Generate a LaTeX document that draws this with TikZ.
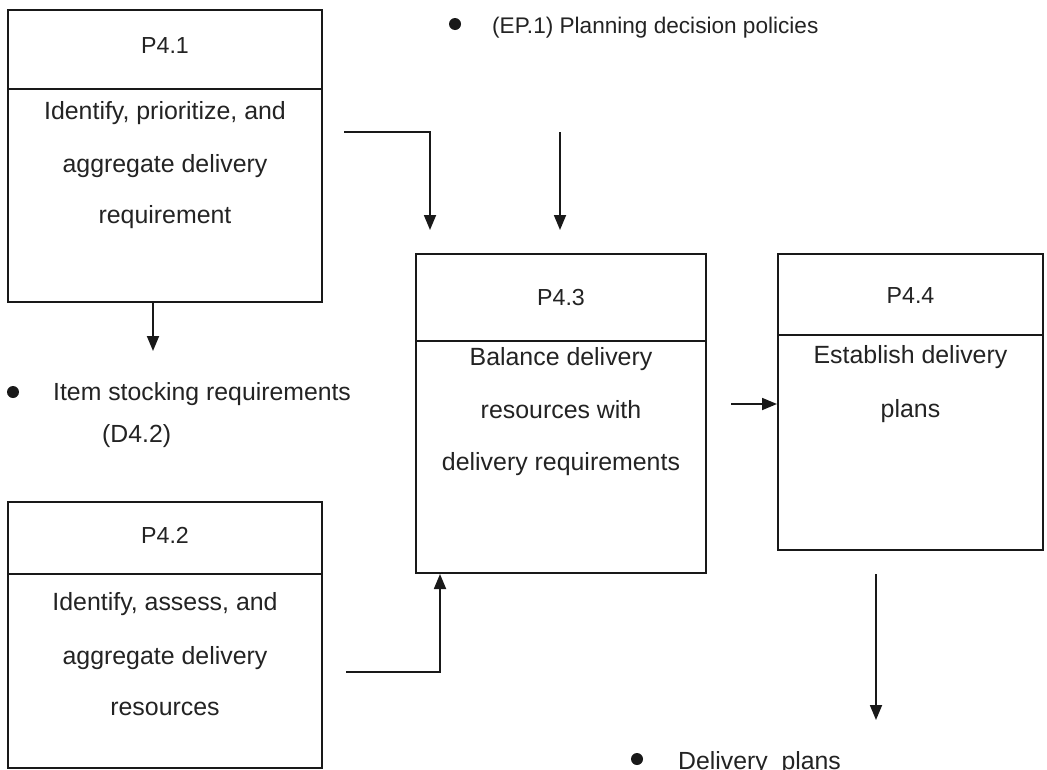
\documentclass[tikz,border=0pt]{standalone}
\usepackage{fontspec}
\setmainfont{Liberation Sans}
\usetikzlibrary{arrows.meta}
\definecolor{ink}{RGB}{25,25,25}
\definecolor{txt}{RGB}{35,35,35}
\tikzset{
  box/.style={draw=ink, line width=2pt, rectangle, inner sep=0pt},
  divider/.style={draw=ink, line width=1.7pt},
  arr/.style={draw=ink, line width=1.8pt, -{Triangle[length=15pt,width=12pt]}},
  body/.style={anchor=base, inner sep=0pt, text=txt, font=\fontsize{24.9}{28}\selectfont},
  ttl/.style={anchor=base, inner sep=0pt, text=txt, font=\fontsize{23.2}{26}\selectfont},
  eptxt/.style={anchor=base west, inner sep=0pt, text=txt, font=\fontsize{22.6}{26}\selectfont},
  lbl/.style={anchor=base west, inner sep=0pt, text=txt, font=\fontsize{24.8}{28}\selectfont},
  dot/.style={circle, fill=ink, inner sep=0pt, minimum size=12pt}
}
\begin{document}
\begin{tikzpicture}[x=1pt, y=-1pt]
\useasboundingbox[fill=white] (0,0) rectangle (1047,769);

% boxes
\node[box, minimum width=314pt, minimum height=292pt] (p41) at (165,156) {};
\node[box, minimum width=314pt, minimum height=266pt] (p42) at (165,635) {};
\node[box, minimum width=290pt, minimum height=319pt] (p43) at (561,413.5) {};
\node[box, minimum width=265pt, minimum height=296pt] (p44) at (910.5,402) {};

% dividers
\coordinate (v1) at (0,89);
\coordinate (v2) at (0,574);
\coordinate (v3) at (0,341);
\coordinate (v4) at (0,335);
\draw[divider] (p41.west |- v1) -- (p41.east |- v1);
\draw[divider] (p42.west |- v2) -- (p42.east |- v2);
\draw[divider] (p43.west |- v3) -- (p43.east |- v3);
\draw[divider] (p44.west |- v4) -- (p44.east |- v4);

% titles
\node[ttl] (t41) at (165,53) {P4.1};
\node[ttl] (t42) at (165,543) {P4.2};
\node[ttl] (t43) at (561,305) {P4.3};
\node[ttl] (t44) at (910.5,303) {P4.4};

% body texts
\node[body] (b411) at (165,119) {Identify, prioritize, and};
\node[body] (b412) at (165,172) {aggregate delivery};
\node[body] (b413) at (165,223) {requirement};

\node[body] (b421) at (165,610) {Identify, assess, and};
\node[body] (b422) at (165,664) {aggregate delivery};
\node[body] (b423) at (165,715) {resources};

\node[body] (b431) at (561,365) {Balance delivery};
\node[body] (b432) at (561,418) {resources with};
\node[body] (b433) at (561,470) {delivery requirements};

\node[body] (b441) at (910.5,363) {Establish delivery};
\node[body] (b442) at (910.5,417) {plans};

% labels with bullets
\node[dot] (d1) at (455,24) {};
\node[eptxt] (l1) at (492,33) {(EP.1) Planning decision policies};
\node[dot] (d2) at (13,392) {};
\node[lbl] (l2) at (53,400) {Item stocking requirements};
\node[lbl] (l3) at (102,442) {(D4.2)};
\node[dot] (d3) at (637,759) {};
\node[lbl] (l4) at (678,769) {Delivery\ \ plans};

% connectors
\coordinate (e1) at (153,351);
\draw[arr] (p41.south -| e1) -- (e1);

\coordinate (s2) at (344,132);
\coordinate (e2) at (430,230);
\draw[arr] (s2) -| (e2);

\coordinate (s3) at (560,132);
\coordinate (e3) at (560,230);
\draw[arr] (s3) -- (e3);

\coordinate (k4) at (440,672);
\draw[arr, shorten <=23pt] (p42.east |- k4) -- (k4) -- (k4 |- p43.south);

\coordinate (k5) at (0,404);
\draw[arr, shorten <=24pt] (p43.east |- k5) -- (p44.west |- k5);

\coordinate (e6) at (876,720);
\draw[arr, shorten <=23pt] (p44.south -| e6) -- (e6);
\end{tikzpicture}
\end{document}
